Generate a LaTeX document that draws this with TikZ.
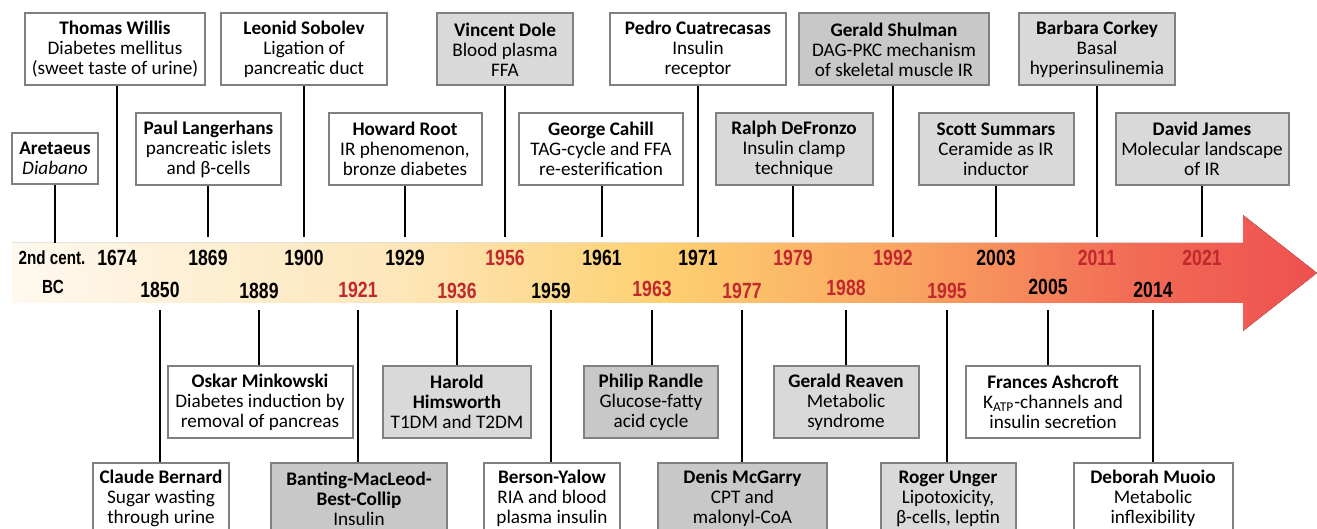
\documentclass[tikz,border=0pt]{standalone}
\usepackage{fontspec}
\setmainfont{Carlito}
\newfontfamily\yearfont[FakeStretch=0.8]{Liberation Sans}

\definecolor{boxline}{HTML}{808080}
\definecolor{lightbox}{HTML}{D9D9D9}
\definecolor{darkbox}{HTML}{C8C8C8}
\definecolor{yearred}{HTML}{C0282D}
\definecolor{tl0}{HTML}{FEF8EE}
\definecolor{tl1}{HTML}{FDE6B8}
\definecolor{tl2}{HTML}{FDD070}
\definecolor{tl3}{HTML}{F9A060}
\definecolor{tl4}{HTML}{F26B55}
\definecolor{tl5}{HTML}{EE5050}
\pgfdeclarehorizontalshading{timeshade}{100bp}{color(0bp)=(tl0); color(25bp)=(tl0); color(40bp)=(tl1); color(50bp)=(tl2); color(60bp)=(tl3); color(68bp)=(tl4); color(75bp)=(tl5); color(100bp)=(tl5)}

\tikzset{
  event/.style={draw=boxline, line width=1pt, align=center, inner sep=2pt, minimum height=36pt,
    font=\fontsize{9.6}{10}\selectfont},
  tick/.style={line width=0.8pt},
  year/.style={inner sep=0pt, font=\yearfont\bfseries\fontsize{11}{11}\selectfont},
  redyear/.style={year, text=yearred}
}

\begin{document}
\begin{tikzpicture}[x=0.5pt,y=-0.5pt]
  \clip (0,0) rectangle (1317,529);
  % time arrow
  \fill[shading=timeshade] (12,243) -- (1243,243) -- (1243,215) -- (1317,273) -- (1243,331) -- (1243,303) -- (12,303) -- cycle;
  \coordinate (topend) at (0,237);
  \coordinate (bandtop) at (0,243);
  \coordinate (botend) at (0,310);

  % years above
  \node[year,font=\yearfont\bfseries\fontsize{9.5}{9.5}\selectfont] (bc) at (52,258) {2nd cent.};
  \node[year,font=\yearfont\bfseries\fontsize{9.5}{9.5}\selectfont] (bc2) at (53,287) {BC};
  \node[year] (y1674) at (117,258) {1674};
  \node[year] (y1869) at (208,258) {1869};
  \node[year] (y1900) at (304,258) {1900};
  \node[year] (y1929) at (405,258) {1929};
  \node[redyear] (y1956) at (505,258) {1956};
  \node[year] (y1961) at (602,258) {1961};
  \node[year] (y1971) at (698,258) {1971};
  \node[redyear] (y1979) at (793,258) {1979};
  \node[redyear] (y1992) at (893,258) {1992};
  \node[year] (y2003) at (996,258) {2003};
  \node[redyear] (y2011) at (1097,258) {2011};
  \node[redyear] (y2021) at (1202,258) {2021};
  % years below
  \node[year] (y1850) at (160,290) {1850};
  \node[year] (y1889) at (259,291) {1889};
  \node[redyear] (y1921) at (358,290) {1921};
  \node[redyear] (y1936) at (457,291) {1936};
  \node[year] (y1959) at (551,291) {1959};
  \node[redyear] (y1963) at (652,289) {1963};
  \node[redyear] (y1977) at (742,291) {1977};
  \node[redyear] (y1988) at (846,288) {1988};
  \node[redyear] (y1995) at (947,291) {1995};
  \node[year] (y2005) at (1048,287) {2005};
  \node[year] (y2014) at (1153,290) {2014};

  % events above the arrow
  \node[event,minimum width=90pt] (willis) at (115,49.5) {\textbf{Thomas Willis}\\Diabetes mellitus\\(sweet taste of urine)};
  \node[event,minimum width=83pt] (sobolev) at (304,49.5) {\textbf{Leonid Sobolev}\\Ligation of\\pancreatic duct};
  \node[event,fill=lightbox,minimum width=68pt] (dole) at (505,49.5) {\textbf{Vincent Dole}\\Blood plasma\\FFA};
  \node[event,minimum width=88pt] (cuatrecasas) at (698,49.5) {\textbf{Pedro Cuatrecasas}\\Insulin\\receptor};
  \node[event,fill=darkbox,minimum width=95pt] (shulman) at (894,49.5) {\textbf{Gerald Shulman}\\DAG-PKC mechanism\\of skeletal muscle IR};
  \node[event,fill=lightbox,minimum width=78pt] (corkey) at (1097,49.5) {\textbf{Barbara Corkey}\\Basal\\hyperinsulinemia};

  \node[event,minimum width=43pt,minimum height=25.5pt] (aretaeus) at (55,158.5) {\textbf{Aretaeus}\\\textit{Diabano}};
  \node[event,minimum width=72.5pt] (langerhans) at (208.5,149) {\textbf{Paul Langerhans}\\pancreatic islets\\and β-cells};
  \node[event,minimum width=76.5pt] (root) at (405,149) {\textbf{Howard Root}\\IR phenomenon,\\bronze diabetes};
  \node[event,minimum width=82pt] (cahill) at (601,149) {\textbf{George Cahill}\\TAG-cycle and FFA\\re-esterification};
  \node[event,fill=lightbox,minimum width=78.5pt] (defronzo) at (794,149) {\textbf{Ralph DeFronzo}\\Insulin clamp\\technique};
  \node[event,fill=lightbox,minimum width=77.5pt] (summars) at (996,149) {\textbf{Scott Summars}\\Ceramide as IR\\inductor};
  \node[event,fill=lightbox,minimum width=86.5pt] (james) at (1202,149) {\textbf{David James}\\Molecular landscape\\of IR};

  % events below the arrow
  \node[event,minimum width=92.5pt] (minkowski) at (260,402) {\textbf{Oskar Minkowski}\\Diabetes induction by\\removal of pancreas};
  \node[event,fill=lightbox,minimum width=74pt] (himsworth) at (457,402) {\textbf{Harold}\\\textbf{Himsworth}\\T1DM and T2DM};
  \node[event,fill=darkbox,minimum width=67pt] (randle) at (651,402) {\textbf{Philip Randle}\\Glucose-fatty\\acid cycle};
  \node[event,fill=lightbox,minimum width=72.5pt] (reaven) at (846,402) {\textbf{Gerald Reaven}\\Metabolic\\syndrome};
  \node[event,minimum width=87pt] (ashcroft) at (1053,402) {\textbf{Frances Ashcroft}\\K\textsubscript{ATP}-channels and\\insulin secretion};

  \node[event,minimum width=68pt] (bernard) at (161,498.5) {\textbf{Claude Bernard}\\Sugar wasting\\through urine};
  \node[event,fill=darkbox,minimum width=88pt] (banting) at (359,498.5) {\textbf{Banting-MacLeod-}\\\textbf{Best-Collip}\\Insulin};
  \node[event,minimum width=68pt] (berson) at (552,498.5) {\textbf{Berson-Yalow}\\RIA and blood\\plasma insulin};
  \node[event,fill=darkbox,minimum width=84.5pt] (mcgarry) at (742.5,498.5) {\textbf{Denis McGarry}\\CPT and\\malonyl-CoA};
  \node[event,fill=lightbox,minimum width=67.5pt] (unger) at (948,498.5) {\textbf{Roger Unger}\\Lipotoxicity,\\β-cells, leptin};
  \node[event,minimum width=79.5pt] (muoio) at (1153,498.5) {\textbf{Deborah Muoio}\\Metabolic\\inflexibility};

  % ticks to the arrow
  \draw[tick] (aretaeus) -- (aretaeus |- bandtop);
  \draw[tick] (willis.south -| y1674) -- (y1674 |- topend);
  \draw[tick] (langerhans.south -| y1869) -- (y1869 |- topend);
  \draw[tick] (sobolev.south -| y1900) -- (y1900 |- topend);
  \draw[tick] (root.south -| y1929) -- (y1929 |- topend);
  \draw[tick] (dole.south -| y1956) -- (y1956 |- topend);
  \draw[tick] (cahill.south -| y1961) -- (y1961 |- topend);
  \draw[tick] (cuatrecasas.south -| y1971) -- (y1971 |- topend);
  \draw[tick] (defronzo.south -| y1979) -- (y1979 |- topend);
  \draw[tick] (shulman.south -| y1992) -- (y1992 |- topend);
  \draw[tick] (summars.south -| y2003) -- (y2003 |- topend);
  \draw[tick] (corkey.south -| y2011) -- (y2011 |- topend);
  \draw[tick] (james.south -| y2021) -- (y2021 |- topend);

  \draw[tick] (bernard.north -| y1850) -- (y1850 |- botend);
  \draw[tick] (minkowski.north -| y1889) -- (y1889 |- botend);
  \draw[tick] (banting.north -| y1921) -- (y1921 |- botend);
  \draw[tick] (himsworth.north -| y1936) -- (y1936 |- botend);
  \draw[tick] (berson.north -| y1959) -- (y1959 |- botend);
  \draw[tick] (randle.north -| y1963) -- (y1963 |- botend);
  \draw[tick] (mcgarry.north -| y1977) -- (y1977 |- botend);
  \draw[tick] (reaven.north -| y1988) -- (y1988 |- botend);
  \draw[tick] (unger.north -| y1995) -- (y1995 |- botend);
  \draw[tick] (ashcroft.north -| y2005) -- (y2005 |- botend);
  \draw[tick] (muoio.north -| y2014) -- (y2014 |- botend);
\end{tikzpicture}
\end{document}
